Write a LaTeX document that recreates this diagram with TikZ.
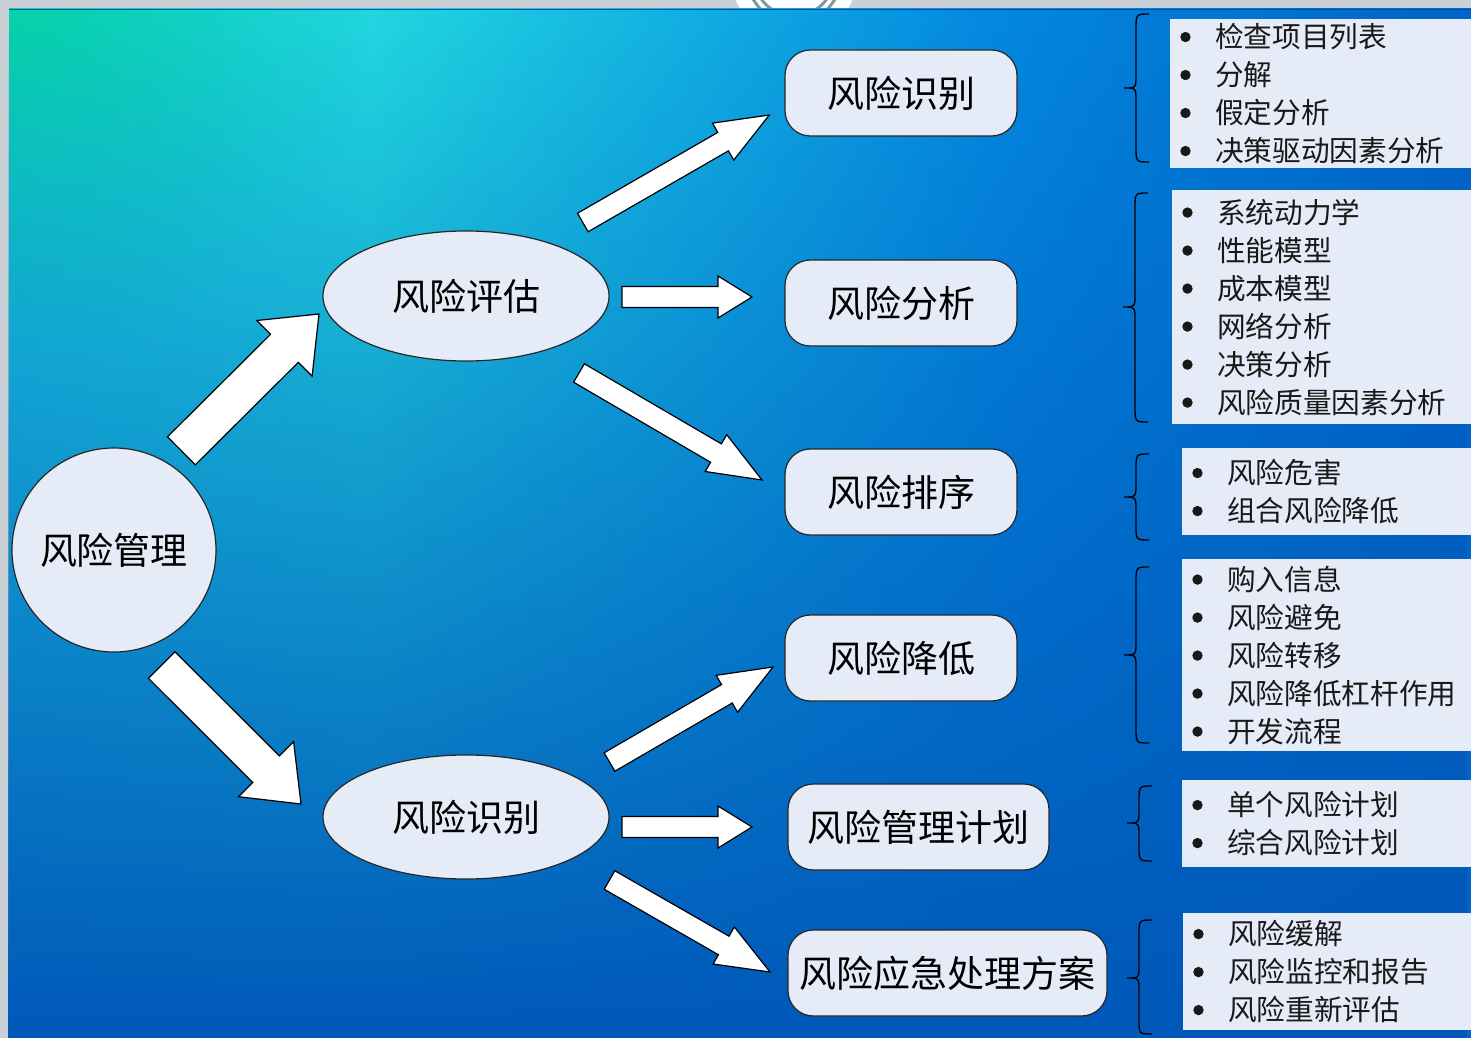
\documentclass[tikz,border=0pt]{standalone}
\usepackage{fontspec}
\setmainfont{Noto Sans CJK SC}
\usetikzlibrary{shapes.geometric,calc,fadings}
\definecolor{nodefill}{HTML}{E6ECF7}
\definecolor{bggrey}{HTML}{C9D1D6}
\definecolor{ringgrey}{HTML}{7F9A9A}
\definecolor{bgA}{HTML}{1CCCE2}
\definecolor{bgB}{HTML}{22D7E0}
\definecolor{bgC}{HTML}{12AEE2}
\definecolor{bgD}{HTML}{0488E0}
\definecolor{bgE}{HTML}{0064C8}
\definecolor{bgBottom}{HTML}{0058B9}
\definecolor{bgGreen}{HTML}{05D4A6}
\definecolor{topline}{HTML}{0050B0}
\pgfdeclarehorizontalshading{bgh}{100bp}{color(0bp)=(bgA); color(25bp)=(bgA); color(37.4bp)=(bgB); color(48.6bp)=(bgC); color(58.9bp)=(bgD); color(75bp)=(bgE); color(100bp)=(bgE)}
\tikzfading[name=vfade, top color=transparent!100, middle color=transparent!88, bottom color=transparent!0]
\tikzfading[name=glow, inner color=transparent!5, outer color=transparent!100]
\tikzset{
 bignode/.style={draw=black!85, line width=0.9pt, fill=nodefill, font=\fontsize{27.75pt}{30pt}\selectfont, inner sep=0pt},
 roundbox/.style={bignode, rectangle, rounded corners=19pt, minimum height=64.5pt},
 oval/.style={bignode, ellipse, minimum width=214.5pt},
 listbox/.style={fill=nodefill, inner xsep=7.5pt, inner ysep=0pt, align=left, font=\fontsize{21.5pt}{28.5pt}\selectfont, anchor=north west, text=black!90},
 blockarr/.style={draw=black, line width=0.9pt, fill=white, line join=miter},
 bracestyle/.style={draw=black, line width=1pt},
}
\newcommand\bul{\tikz[baseline=-8pt]\fill (0,0) circle[radius=3.9pt];}
\newcommand\itm[1]{\makebox[26.25pt][l]{\bul}#1}
\newcommand\blockarrow[5]{%
  \coordinate (bab) at ($(#2)!#5!(#1)$);
  \draw[blockarr] ($(#1)!#3!90:(#2)$) -- ($(bab)!#3!-90:(#1)$) -- ($(bab)!#4!-90:(#1)$) -- (#2) -- ($(bab)!#4!90:(#1)$) -- ($(bab)!#3!90:(#1)$) -- ($(#1)!#3!-90:(#2)$) -- cycle;}
\newcommand\mybrace[4]{%
  \draw[bracestyle] ({#1+25},#2) .. controls ({#1+12},#2) .. ({#1+12},{#2+15}) -- ({#1+12},{#3-13}) .. controls ({#1+12},#3) .. (#1,#3) .. controls ({#1+12},#3) .. ({#1+12},{#3+13}) -- ({#1+12},{#4-15}) .. controls ({#1+12},#4) .. ({#1+25},#4);}
\begin{document}
\begin{tikzpicture}[x=0.75pt,y=-0.75pt]
\useasboundingbox (0,0) rectangle (1471,1038);
\fill[bggrey] (0,0) rectangle (1471,1038);
\begin{scope}
 \clip (690,0) rectangle (900,9);
 \fill[white] (794,-24) circle[radius=63];
 \draw[ringgrey, line width=2.2pt] (794,-24) circle[radius=40] (794,-24) circle[radius=47];
\end{scope}
\shade[shading=bgh] (9,9) rectangle (1471,1038);
\begin{scope}
 \clip (9,9) rectangle (1471,1038);
 \fill[bgGreen, path fading=glow] (9,9) circle[radius=360];
\end{scope}
\fill[bgBottom, path fading=vfade] (9,9) rectangle (1471,1038);
\draw[topline, line width=1.2pt] (9,9.5) -- (1471,9.5);

% main nodes
\node[bignode, circle, minimum size=153pt] (mgmt) at (114,550) {风险管理};
\node[oval, minimum height=97.5pt] (eval) at (466,296) {风险评估};
\node[oval, minimum height=93pt] (ident) at (466,817) {风险识别};
\node[roundbox, minimum width=174pt] (r1) at (901,93) {风险识别};
\node[roundbox, minimum width=174pt] (r2) at (901,303) {风险分析};
\node[roundbox, minimum width=174pt] (r3) at (901,492) {风险排序};
\node[roundbox, minimum width=174pt] (r4) at (901,658) {风险降低};
\node[roundbox, minimum width=195.75pt] (r5) at (918.5,827) {风险管理计划};
\node[roundbox, minimum width=239.25pt] (r6) at (947.5,973) {风险应急处理方案};

% block arrows
\coordinate (a1s) at (181.4,450.8); \coordinate (a1e) at (319,314);
\coordinate (a2s) at (161.7,665);   \coordinate (a2e) at (301,804);
\coordinate (a3s) at (582.8,222.5); \coordinate (a3e) at (769.3,115);
\coordinate (a4s) at (622,297);     \coordinate (a4e) at (752,297);
\coordinate (a5s) at (579,373);     \coordinate (a5e) at (762,480);
\coordinate (a6s) at (609.5,762);   \coordinate (a6e) at (773,667);
\coordinate (a7s) at (622,827);     \coordinate (a7e) at (752,827);
\coordinate (a8s) at (609.5,880);   \coordinate (a8e) at (770,972);
\blockarrow{a1s}{a1e}{14.8pt}{29.4pt}{36.5pt}
\blockarrow{a2s}{a2e}{14.1pt}{29.2pt}{37pt}
\blockarrow{a3s}{a3e}{8pt}{16pt}{40pt}
\blockarrow{a4s}{a4e}{7.9pt}{15.75pt}{25.5pt}
\blockarrow{a5s}{a5e}{8pt}{16pt}{40pt}
\blockarrow{a6s}{a6e}{8pt}{16pt}{40pt}
\blockarrow{a7s}{a7e}{7.9pt}{15.75pt}{25.5pt}
\blockarrow{a8s}{a8e}{8pt}{16pt}{40pt}

% braces
\mybrace{1124}{14}{88}{162}
\mybrace{1123}{193}{307}{422}
\mybrace{1124}{454}{497}{540}
\mybrace{1124}{567}{655}{743}
\mybrace{1127}{786}{823}{861}
\mybrace{1127}{920}{978}{1034}

% lists
\node[listbox, minimum width=225.75pt, text width=210.75pt, minimum height=111.75pt] (l1) at (1170,19)
 {\itm{检查项目列表}\\\itm{分解}\\\itm{假定分析}\\\itm{决策驱动因素分析}};
\node[listbox, minimum width=224.25pt, text width=209.25pt, minimum height=175.5pt] (l2) at (1172,190)
 {\itm{系统动力学}\\\itm{性能模型}\\\itm{成本模型}\\\itm{网络分析}\\\itm{决策分析}\\\itm{风险质量因素分析}};
\node[listbox, minimum width=216.75pt, text width=201.75pt, minimum height=65.25pt] (l3) at (1182,448)
 {\itm{风险危害}\\\itm{组合风险降低}};
\node[listbox, minimum width=216.75pt, text width=201.75pt, minimum height=144pt] (l4) at (1182,559)
 {\itm{购入信息}\\\itm{风险避免}\\\itm{风险转移}\\\itm{风险降低杠杆作用}\\\itm{开发流程}};
\node[listbox, minimum width=216.75pt, text width=201.75pt, minimum height=65.25pt] (l5) at (1182,780)
 {\itm{单个风险计划}\\\itm{综合风险计划}};
\node[listbox, minimum width=216pt, text width=201pt, minimum height=87.75pt] (l6) at (1183,913)
 {\itm{风险缓解}\\\itm{风险监控和报告}\\\itm{风险重新评估}};
\end{tikzpicture}
\end{document}
